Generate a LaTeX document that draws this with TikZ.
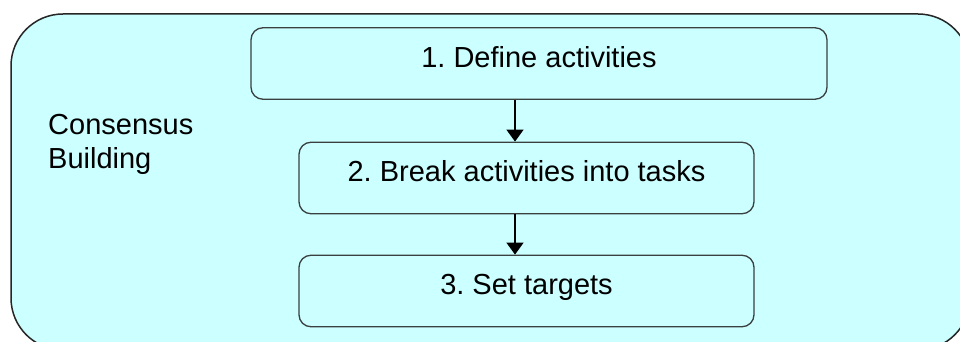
\documentclass[tikz,border=0pt]{standalone}
\usepackage{fontspec}
\setmainfont{Liberation Sans}
\usetikzlibrary{arrows.meta}
\definecolor{panelfill}{HTML}{CCFFFF}
\definecolor{edgegray}{HTML}{3A3F3F}
\frenchspacing
\begin{document}
\begin{tikzpicture}[x=1pt,y=-1pt,
  panel/.style={draw=black!85, line width=1.5pt, fill=panelfill, rounded corners=52pt},
  stepbox/.style={draw=edgegray, line width=1.3pt, fill=panelfill, rounded corners=12pt,
    inner sep=0pt, text height=39.5pt, text depth=32pt,
    font=\fontsize{29}{34}\selectfont},
  flow/.style={line width=1.5pt, -{Triangle[width=17pt,length=12pt]}}]
  \useasboundingbox (0,0) rectangle (960,342);
  \clip (0,0) rectangle (960,342);
  % outer group panel
  \draw[panel] (11,14) rectangle (970,350);
  % side label
  \node[anchor=base west, inner sep=0pt, align=left,
        font=\fontsize{29}{34}\selectfont] (label) at (48,168) {Consensus\\Building};
  % process steps
  \node[stepbox, minimum width=576pt] (s1) at (539,63.5) {1. Define activities};
  \node[stepbox, minimum width=455pt] (s2) at (526.5,178) {2. Break activities into tasks};
  \node[stepbox, minimum width=455pt] (s3) at (526.5,291) {3. Set targets};
  % connectors
  \coordinate (axis) at (515,0);
  \draw[flow] (s1.south -| axis) -- (s2.north -| axis);
  \draw[flow] (s2.south -| axis) -- (s3.north -| axis);
\end{tikzpicture}
\end{document}
